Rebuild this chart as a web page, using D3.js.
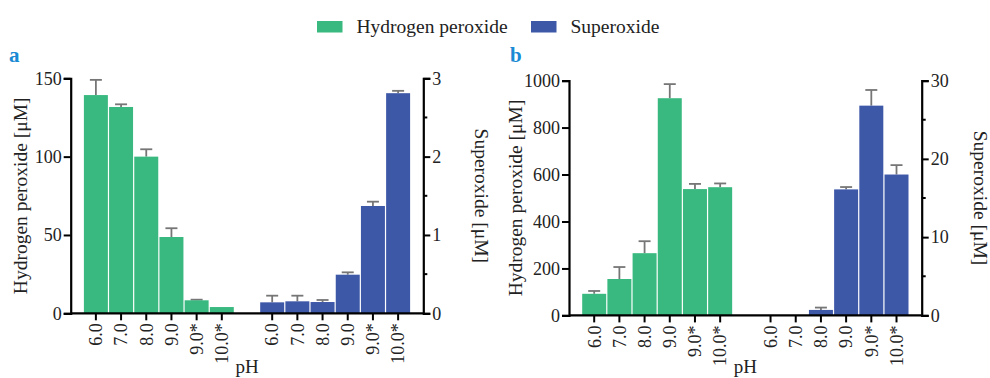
<!DOCTYPE html>
<html>
<head>
<meta charset="utf-8">
<script src="https://cdn.jsdelivr.net/npm/d3@7"></script>
<style>
  html, body { margin: 0; padding: 0; background: #fff; }
  svg { display: block; font-family: "Liberation Serif", "DejaVu Serif", serif; }
</style>
</head>
<body>
<svg id="chart" width="990" height="378"></svg>
<script>
// pH conditions shared by both panels
const pHLabels = ["6.0", "7.0", "8.0", "9.0", "9.0*", "10.0*"];

// Panel a
const h2o2A = [139.3, 131.7, 100.0, 48.7, 8.3, 4.0];
const h2o2AErr = [9.7, 1.7, 4.7, 5.6, 0.4, 0];
const supA = [0.14, 0.153, 0.144, 0.493, 1.37, 2.81];
const supAErr = [0.085, 0.072, 0.026, 0.03, 0.055, 0.03];
const h2o2ATicks = [0, 50, 100, 150];
const supATicks = [0, 1, 2, 3];
const supAMinor = [0.5, 1.5, 2.5];

// Panel b
const h2o2B = [92, 155, 265, 925, 538, 546];
const h2o2BErr = [12, 51, 51, 60, 22, 16];
const supB = [0, 0, 0.7, 16.1, 26.8, 18.0];
const supBErr = [0, 0, 0.3, 0.3, 2.0, 1.2];
const h2o2BTicks = [0, 200, 400, 600, 800, 1000];
const supBTicks = [0, 10, 20, 30];
const supBMinor = [5, 15, 25];

const seriesNames = ["Hydrogen peroxide", "Superoxide"];
const GREEN = "#39b97f";
const BLUE = "#3e58a8";
const ERR = "#767676";
const LABEL_BLUE = "#1a8ad4";

const svg = d3.select("#chart");

// Slot keys: six H2O2 bars, one empty slot, six superoxide bars
const slotKeys = [...pHLabels.map(p => "H" + p), "gap", ...pHLabels.map(p => "S" + p)];

function panel(cfg) {
  const g = svg.append("g");
  const x = d3.scaleBand().domain(slotKeys).range([cfg.x0, cfg.x1]).paddingInner(0).paddingOuter(0.5);
  const yL = d3.scaleLinear().domain([0, cfg.leftMax]).range([cfg.yb, cfg.yt]);
  const yR = d3.scaleLinear().domain([0, cfg.rightMax]).range([cfg.yb, cfg.yt]);
  const bw = x.bandwidth();

  const rows = [
    ...pHLabels.map((p, i) => ({ key: "H" + p, v: cfg.h2o2[i], e: cfg.h2o2Err[i], y: yL, c: GREEN })),
    ...pHLabels.map((p, i) => ({ key: "S" + p, v: cfg.sup[i], e: cfg.supErr[i], y: yR, c: BLUE }))
  ];

  // Error bars (upper only), drawn behind the bars
  const eb = g.append("g").attr("stroke", ERR).attr("stroke-width", 1.8).attr("fill", "none");
  rows.filter(d => d.e > 0).forEach(d => {
    const cx = x(d.key) + bw / 2;
    eb.append("line").attr("x1", cx).attr("x2", cx).attr("y1", d.y(d.v)).attr("y2", d.y(d.v + d.e));
    eb.append("line").attr("x1", cx - 6).attr("x2", cx + 6).attr("y1", d.y(d.v + d.e)).attr("y2", d.y(d.v + d.e));
  });

  // Bars
  g.append("g").selectAll("rect").data(rows.filter(d => d.v > 0)).join("rect")
    .attr("x", d => x(d.key) + 0.6)
    .attr("width", bw - 1.2)
    .attr("y", d => d.y(d.v))
    .attr("height", d => d.y(0) - d.y(d.v))
    .attr("fill", d => d.c);

  const fontTick = "18px";

  // Left axis
  const left = g.append("g").attr("transform", `translate(${cfg.x0},0)`)
    .call(d3.axisLeft(yL).tickValues(cfg.leftTicks).tickSize(7).tickPadding(2).tickFormat(d3.format("d")));
  // Right axis
  const right = g.append("g").attr("transform", `translate(${cfg.x1},0)`)
    .call(d3.axisRight(yR).tickValues(cfg.rightTicks).tickSize(7).tickPadding(2).tickFormat(d3.format("d")));
  right.append("g").selectAll("line").data(cfg.rightMinor).join("line")
    .attr("x1", 0).attr("x2", 4).attr("y1", d => yR(d)).attr("y2", d => yR(d))
    .attr("stroke", "#000").attr("stroke-width", 2);
  // Bottom axis, ticks only at the filled slots
  const bottom = g.append("g").attr("transform", `translate(0,${cfg.yb})`)
    .call(d3.axisBottom(x).tickValues(slotKeys.filter(k => k !== "gap")).tickSize(7).tickPadding(4)
      .tickFormat(k => k.slice(1)));
  bottom.select(".domain").attr("d", `M${cfg.x0},0H${cfg.x1}`);
  bottom.selectAll(".tick text")
    .attr("transform", "rotate(-90)")
    .attr("text-anchor", "end")
    .attr("x", -10).attr("y", 0).attr("dy", "0.35em");

  [left, right, bottom].forEach(a => {
    a.select(".domain").attr("stroke", "#000").attr("stroke-width", 2.2);
    a.selectAll(".tick line").attr("stroke", "#000").attr("stroke-width", 2);
    a.selectAll(".tick text").attr("font-size", fontTick).attr("fill", "#222")
      .attr("font-family", "Liberation Serif, serif");
  });

  // Titles
  const yc = (cfg.yt + cfg.yb) / 2;
  g.append("text").attr("transform", `translate(${cfg.leftTitleX},${yc}) rotate(-90)`)
    .attr("text-anchor", "middle").attr("dominant-baseline", "central")
    .attr("font-size", "19.5px").attr("fill", "#222").text("Hydrogen peroxide [μM]");
  g.append("text").attr("transform", `translate(${cfg.rightTitleX},${yc}) rotate(90)`)
    .attr("text-anchor", "middle").attr("dominant-baseline", "central")
    .attr("font-size", "19.5px").attr("fill", "#222").text("Superoxide [μM]");
  g.append("text").attr("x", (cfg.x0 + cfg.x1) / 2).attr("y", 373)
    .attr("text-anchor", "middle").attr("font-size", "19px").attr("fill", "#222").text("pH");
  g.append("text").attr("x", cfg.labelX).attr("y", 62)
    .attr("font-size", "21px").attr("font-weight", "bold").attr("fill", LABEL_BLUE).text(cfg.label);
}

panel({
  label: "a", labelX: 9,
  x0: 70.7, x1: 423.3, yt: 78.3, yb: 313.3,
  leftMax: 150, rightMax: 3,
  h2o2: h2o2A, h2o2Err: h2o2AErr, sup: supA, supErr: supAErr,
  leftTicks: h2o2ATicks, rightTicks: supATicks, rightMinor: supAMinor,
  leftTitleX: 20, rightTitleX: 481
});

panel({
  label: "b", labelX: 510,
  x0: 569, x1: 921.7, yt: 80.6, yb: 315.4,
  leftMax: 1000, rightMax: 30,
  h2o2: h2o2B, h2o2Err: h2o2BErr, sup: supB, supErr: supBErr,
  leftTicks: h2o2BTicks, rightTicks: supBTicks, rightMinor: supBMinor,
  leftTitleX: 515, rightTitleX: 980
});

// Legend
const legend = svg.append("g");
const legendX = [317, 531];
const legendColors = [GREEN, BLUE];
seriesNames.forEach((name, i) => {
  legend.append("rect").attr("x", legendX[i]).attr("y", 21).attr("width", 25.5).attr("height", 11.5)
    .attr("fill", legendColors[i]);
  legend.append("text").attr("x", legendX[i] + 39.5).attr("y", 33)
    .attr("font-size", "19.5px").attr("fill", "#222").text(name);
});
</script>
</body>
</html>
